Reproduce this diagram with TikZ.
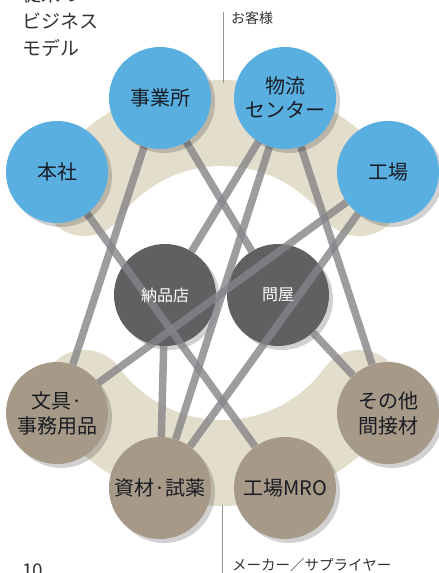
\documentclass[tikz,border=0pt]{standalone}
\usepackage{fontspec}
\setmainfont{Noto Sans CJK JP}
\usetikzlibrary{shadows}
\definecolor{bluec}{RGB}{90,175,225}
\definecolor{darkc}{RGB}{95,96,98}
\definecolor{brownc}{RGB}{167,153,136}
\definecolor{beigec}{RGB}{227,221,204}
\definecolor{linec}{RGB}{132,133,136}
\definecolor{txtc}{RGB}{25,28,35}
\definecolor{rulec}{RGB}{150,150,152}
\pgfdeclarelayer{bg}
\pgfdeclarelayer{mid}
\pgfsetlayers{bg,mid,main}
\begin{document}
\begin{tikzpicture}[x=1pt,y=-1pt,
  circ/.style={circle, minimum size=102pt, inner sep=0pt, align=center,
    drop shadow={shadow xshift=4pt, shadow yshift=-4pt, opacity=0.18, fill=black}},
  custnode/.style={circ, fill=bluec, text=txtc, font=\fontsize{20}{24}\selectfont},
  midnode/.style={circ, fill=darkc},
  midtext/.style={text=white, inner sep=0pt, font=\fontsize{16}{20}\selectfont},
  supnode/.style={circ, fill=brownc, text=txtc, font=\fontsize{20}{25}\selectfont},
  band/.style={draw=beigec, line width=86pt, line cap=round},
  conn/.style={draw=linec, line width=7.5pt, draw opacity=0.8},
  rule/.style={draw=rulec, line width=0.8pt},
  label/.style={inner sep=0pt, anchor=base west, text=black!80}
]
\useasboundingbox (0,0) rectangle (439,573);
\begin{pgfonlayer}{bg}
  \draw[band] (222,293) ++(216:170) arc[start angle=216, end angle=324, radius=170];
  \draw[band] (222,293) ++(36:170) arc[start angle=36, end angle=144, radius=170];
  \coordinate (ctop) at (223,12);
  \coordinate (cbot) at (223,83);
  \draw[rule] (ctop) -- (cbot);
  \coordinate (mtop) at (222,505);
  \coordinate (mbot) at (222,580);
  \draw[rule] (mtop) -- (mbot);
  \node[midnode] (nouhin) at (165,295) {};
  \node[midnode] (ton) at (278,295) {};
\end{pgfonlayer}

\node[custnode] (jigyo) at (160,98) {事業所};
\node[custnode] (butsu) at (285,98) {物流\\センター};
\node[custnode] (honsha) at (57,172) {本社};
\node[custnode] (kojo) at (388,172) {工場};
\node[supnode] (bungu) at (57,413) {文具·\\事務用品};
\node[supnode] (sonota) at (388,413) {その他\\間接材};
\node[supnode] (shizai) at (160,488) {資材·試薬};
\node[supnode] (mro) at (285,488) {工場MRO};

\begin{pgfonlayer}{mid}
  \draw[conn] (honsha) -- (mro);
  \draw[conn] (jigyo) -- (bungu);
  \draw[conn] (jigyo) -- (ton);
  \draw[conn] (butsu) -- (nouhin);
  \draw[conn] (butsu) -- (shizai);
  \draw[conn] (butsu) -- (sonota);
  \draw[conn] (kojo) -- (bungu);
  \draw[conn] (kojo) -- (shizai);
  \draw[conn] (nouhin) -- (shizai);
  \draw[conn] (ton) -- (sonota);
\end{pgfonlayer}

\node[midtext] (nouhintxt) at (nouhin) {納品店};
\node[midtext] (tontxt) at (ton) {問屋};

\node[label, font=\fontsize{19}{19}\selectfont] (title1) at (22,1) {従来の};
\node[label, font=\fontsize{19}{19}\selectfont] (title2) at (22,28) {ビジネス};
\node[label, font=\fontsize{19}{19}\selectfont] (title3) at (22,55) {モデル};
\node[label, font=\fontsize{14}{14}\selectfont] (cust) at (231,23) {お客様};
\node[label, font=\fontsize{14.5}{14.5}\selectfont] (maker) at (232,570) {メーカー／サプライヤー};
\node[label, font=\fontsize{19}{19}\selectfont] (page) at (22,577) {10};
\end{tikzpicture}
\end{document}
